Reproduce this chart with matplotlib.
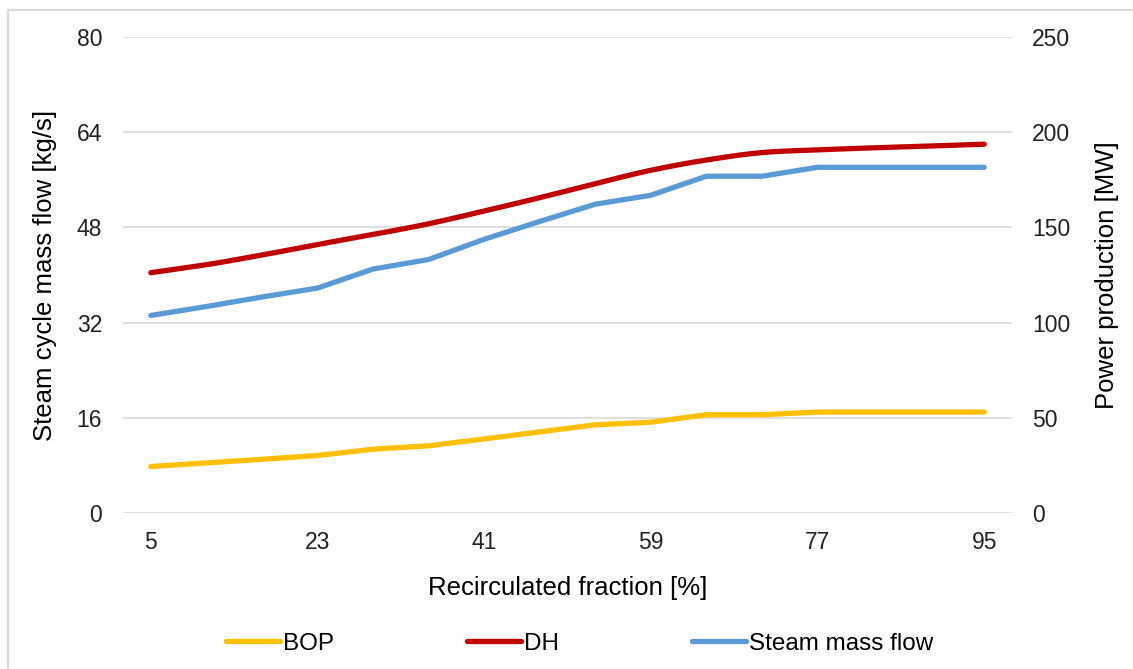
import matplotlib.pyplot as plt
import numpy as np
from matplotlib.lines import Line2D

plt.rcParams['font.family'] = ['Liberation Sans', 'DejaVu Sans']

# data
fraction = [5, 11, 17, 23, 29, 35, 41, 47, 53, 59, 65, 71, 77, 83, 89, 95]
bop = [24.4, 26.3, 28.2, 30.2, 33.5, 35.3, 38.9, 42.6, 46.3, 47.7,
       51.6, 51.6, 53.0, 53.0, 53.0, 53.0]
dh = [126.2, 130.4, 135.5, 141.0, 146.3, 151.9, 158.6, 165.6, 173.0, 180.0,
      185.4, 189.3, 190.7, 191.8, 192.7, 193.7]
steam = [33.2, 34.7, 36.3, 37.8, 41.0, 42.6, 46.0, 49.0, 51.9, 53.4,
         56.6, 56.6, 58.1, 58.1, 58.1, 58.1]
xticks = [5, 23, 41, 59, 77, 95]


def smooth(x, y, n=12):
    # catmull-rom, like excel's smoothed line
    x = np.asarray(x, float)
    y = np.asarray(y, float)
    px = np.concatenate([[2 * x[0] - x[1]], x, [2 * x[-1] - x[-2]]])
    py = np.concatenate([[2 * y[0] - y[1]], y, [2 * y[-1] - y[-2]]])
    xs, ys = [], []
    t = np.linspace(0, 1, n, endpoint=False)
    for i in range(1, len(px) - 2):
        for p, out in ((px, xs), (py, ys)):
            p0, p1, p2, p3 = p[i - 1], p[i], p[i + 1], p[i + 2]
            out.extend(0.5 * ((2 * p1) + (-p0 + p2) * t
                              + (2 * p0 - 5 * p1 + 4 * p2 - p3) * t ** 2
                              + (-p0 + 3 * p1 - 3 * p2 + p3) * t ** 3))
    xs.append(x[-1])
    ys.append(y[-1])
    return xs, ys


fig = plt.figure(figsize=(11.33, 6.69), dpi=100)
ax = fig.add_axes([0.1086, 0.2332, 0.7846, 0.7115])
ax2 = ax.twinx()

c_bop, c_dh, c_steam = '#FFC000', '#C00000', '#5B9BD5'
lw = 3.8

ax.plot(fraction, steam, color=c_steam, lw=lw, solid_capstyle='round',
        solid_joinstyle='round', zorder=3)
ax2.plot(fraction, bop, color=c_bop, lw=lw, solid_capstyle='round',
         solid_joinstyle='round')
sx, sy = smooth(fraction, dh)
ax2.plot(sx, sy, color=c_dh, lw=lw, solid_capstyle='round')

ax.set_xlim(2, 98)
ax.set_ylim(0, 80)
ax.set_yticks(np.arange(0, 81, 16))
ax2.set_ylim(0, 250)
ax2.set_yticks(np.arange(0, 251, 50))
ax.set_xticks(xticks)

ax.grid(axis='y', color='#D9D9D9', lw=1.2)
ax.set_axisbelow(True)
for a in (ax, ax2):
    for s in a.spines.values():
        s.set_visible(False)
    a.tick_params(length=0, labelsize=16.5, colors='#222222')
ax.tick_params(axis='y', pad=15)
ax.tick_params(axis='x', pad=13)
ax2.tick_params(axis='y', pad=14.5)

ax.set_xlabel('Recirculated fraction [%]', fontsize=18.5, labelpad=16)
ax.set_ylabel('Steam cycle mass flow [kg/s]', fontsize=18.5, labelpad=14)
ax2.set_ylabel('Power production [MW]', fontsize=18.5, labelpad=18)

handles = [Line2D([], [], color=c, lw=lw, solid_capstyle='round')
           for c in (c_bop, c_dh, c_steam)]
fig.legend(handles, ['BOP', 'DH', 'Steam mass flow'], ncol=3,
           loc='center', bbox_to_anchor=(0.5115, 0.038), frameon=False,
           fontsize=17.5, handlelength=2.2, handletextpad=0.12,
           columnspacing=5.5)

# chart border (left and top edges only)
fig.add_artist(Line2D([7.5 / 1133, 7.5 / 1133, 1], [0, 1 - 10 / 669, 1 - 10 / 669],
                      color='#D9D9D9', lw=1.5, transform=fig.transFigure))

fig.savefig('out.png', dpi=100)
